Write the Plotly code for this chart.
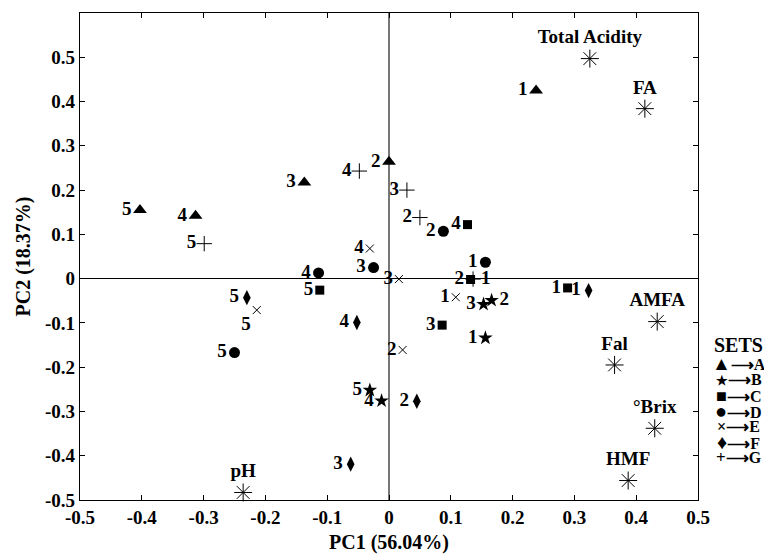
import plotly.graph_objects as go

# ---- data ----
sample_ids = ["1", "2", "3", "4", "5"]

set_a_x = [0.238, 0.000, -0.137, -0.313, -0.403]
set_a_y = [0.425, 0.264, 0.217, 0.142, 0.155]

set_b_x = [0.156, 0.166, 0.153, -0.012, -0.031]
set_b_y = [-0.134, -0.049, -0.058, -0.276, -0.252]

set_c_x = [0.289, 0.132, 0.086, 0.127, -0.112]
set_c_y = [-0.021, -0.002, -0.105, 0.122, -0.026]

set_d_x = [0.156, 0.088, -0.025, -0.114, -0.250]
set_d_y = [0.037, 0.107, 0.025, 0.013, -0.167]

set_e_x = [0.108, 0.022, 0.016, -0.031, -0.214]
set_e_y = [-0.042, -0.161, -0.001, 0.068, -0.071]

set_f_x = [0.323, 0.045, -0.062, -0.052, -0.230]
set_f_y = [-0.027, -0.277, -0.419, -0.099, -0.043]

set_g_x = [0.136, 0.050, 0.029, -0.048, -0.299]
set_g_y = [-0.001, 0.138, 0.200, 0.243, 0.079]

var_names = ["Total Acidity", "FA", "AMFA", "Fal", "°Brix", "HMF", "pH"]
var_x = [0.325, 0.414, 0.434, 0.365, 0.430, 0.387, -0.236]
var_y = [0.497, 0.384, -0.097, -0.195, -0.338, -0.456, -0.483]

set_names = ["A", "B", "C", "D", "E", "F", "G"]
legend_glyphs = ["▲", "★", "■", "●", "×", "♦", "+"]
legend_glyph_px = [19, 13, 18, 20, 16, 20, 17]

x_ticks = [-0.5, -0.4, -0.3, -0.2, -0.1, 0, 0.1, 0.2, 0.3, 0.4, 0.5]
x_tick_text = ["-0.5", "-0.4", "-0.3", "-0.2", "-0.1", "0", "0.1", "0.2", "0.3", "0.4", "0.5"]
y_ticks = [-0.5, -0.4, -0.3, -0.2, -0.1, 0, 0.1, 0.2, 0.3, 0.4, 0.5]
y_tick_text = ["-0.5", "-0.4", "-0.3", "-0.2", "-0.1", "0", "0.1", "0.2", "0.3", "0.4", "0.5"]

FONT = "Liberation Serif"
LABEL_FONT = dict(family=FONT, size=19, color="black", weight="bold")

sets = [
    (set_a_x, set_a_y, "triangle-up", 12, 0, ["middle left"] * 5),
    (set_b_x, set_b_y, "star", 11, 0,
     ["middle left", "middle right", "middle left", "middle left", "middle left"]),
    (set_c_x, set_c_y, "square", 9, 0, ["middle left"] * 5),
    (set_d_x, set_d_y, "circle", 11, 0, ["middle left"] * 5),
    (set_e_x, set_e_y, "x-thin-open", 8, 1,
     ["middle left"] * 4 + ["bottom left"]),
    (set_f_x, set_f_y, "diamond-tall", 11, 0, ["middle left"] * 5),
    (set_g_x, set_g_y, "cross-thin-open", 11, 1, ["middle right"] + ["middle left"] * 4),
]

fig = go.Figure()

for (xs, ys, sym, size, lw, tpos), name in zip(sets, set_names):
    fig.add_trace(go.Scatter(
        x=xs, y=ys, mode="markers+text", name=name,
        text=sample_ids, textposition=tpos, textfont=LABEL_FONT,
        marker=dict(symbol=sym, size=size, color="black",
                    line=dict(color="black", width=lw)),
        cliponaxis=False, showlegend=False,
    ))

fig.add_trace(go.Scatter(
    x=var_x, y=var_y, mode="markers+text", name="variables",
    text=var_names, textposition="top center", textfont=LABEL_FONT,
    marker=dict(symbol="asterisk-open", size=15, color="black",
                line=dict(color="#222", width=1)),
    cliponaxis=False, showlegend=False,
))

# legend built as text (paper coords relative to the plot area)
LEG_X = 1.066
fig.add_annotation(x=LEG_X, y=(492 - 337) / 487, xref="paper", yref="paper",
                   text="SETS", showarrow=False, xanchor="center", yanchor="middle",
                   font=dict(family=FONT, size=20, color="black", weight="bold"))
row_y = [355, 371.5, 387.5, 403, 418, 433.5, 449]
for glyph, gpx, name, py in zip(legend_glyphs, legend_glyph_px, set_names, row_y):
    fig.add_annotation(x=LEG_X, y=(492 - py) / 487, xref="paper", yref="paper",
                       text=f"<span style='font-size:{gpx}px'>{glyph}</span>⟶{name}",
                       showarrow=False, xanchor="center", yanchor="middle",
                       font=dict(family=FONT, size=16, color="black", weight="bold"))

axis_common = dict(
    showgrid=False, showline=True, linecolor="black", linewidth=1.3,
    mirror="ticks", ticks="inside", ticklen=5, tickcolor="black", tickwidth=1,
    tickfont=dict(family=FONT, size=19, color="black", weight="bold"),
    automargin=False,
)

fig.update_xaxes(
    range=[-0.5, 0.5], tickvals=x_ticks, ticktext=x_tick_text,
    zeroline=True, zerolinecolor="#777", zerolinewidth=1.5,
    title=dict(text="PC1 (56.04%)", standoff=8,
               font=dict(family=FONT, size=20, color="black", weight="bold")),
    **axis_common,
)
fig.update_yaxes(
    range=[-0.5, 0.6], tickvals=y_ticks, ticktext=y_tick_text,
    zeroline=True, zerolinecolor="black", zerolinewidth=1,
    title=dict(text="PC2 (18.37%)", standoff=8,
               font=dict(family=FONT, size=20, color="black", weight="bold")),
    **axis_common,
)

# page adds an 8px body margin, so the figure is sized to fit the window
fig.update_layout(
    width=764, height=548,
    margin=dict(l=72, r=74, t=5, b=56, autoexpand=False),
    paper_bgcolor="white", plot_bgcolor="white",
    showlegend=False,
)

fig.write_html("out.html")
